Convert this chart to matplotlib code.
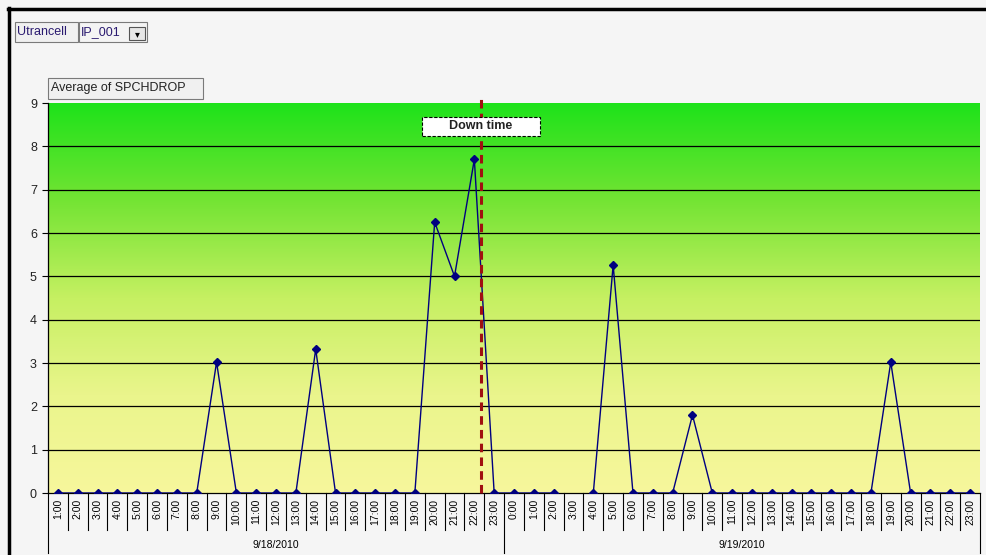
import numpy as np
import matplotlib
matplotlib.use("Agg")
import matplotlib.pyplot as plt
from matplotlib.colors import LinearSegmentedColormap
from matplotlib.lines import Line2D
from matplotlib.patches import Rectangle

plt.rcParams['font.family'] = ['Liberation Sans', 'DejaVu Sans']

# hourly averages, two days
hours_d1 = ["%d:00" % h for h in range(1, 24)]
hours_d2 = ["%d:00" % h for h in range(0, 24)]
dates = ["9/18/2010", "9/19/2010"]
spchdrop_d1 = [0, 0, 0, 0, 0, 0, 0, 0, 3.02, 0, 0, 0, 0, 3.32, 0, 0, 0, 0, 0,
               6.25, 5.0, 7.7, 0]
spchdrop_d2 = [0, 0, 0, np.nan, 0, 5.26, 0, 0, 0, 1.8, 0, 0, 0, 0, 0, 0, 0, 0, 0,
               3.02, 0, 0, 0, 0]
downtime_pos = 21.35   # between 22:00 and 23:00 on the first day
y_max = 9

labels = hours_d1 + hours_d2
values = np.array(spchdrop_d1 + spchdrop_d2, dtype=float)
x = np.arange(len(labels))
n1 = len(hours_d1)

W, H = 986, 555
fig = plt.figure(figsize=(W / 100, H / 100), dpi=100, facecolor='#f5f5f5')
ax = fig.add_axes([48 / W, (H - 493) / H, (980 - 48) / W, (493 - 103) / H])
ax.set_facecolor('none')

# green -> yellow gradient plot area
cmap = LinearSegmentedColormap.from_list(
    'gy', ['#f7f79c', '#eaf58c', '#c6f062', '#74e434', '#1ee21a'])
grad = np.linspace(0, 1, 256).reshape(-1, 1)
ax.imshow(grad, cmap=cmap, origin='lower', aspect='auto',
          extent=[-0.5, len(labels) - 0.5, 0, y_max], zorder=0)

for g in range(1, y_max):
    ax.axhline(g, color='black', lw=0.9, zorder=1)

ax.plot(x, values, color='#000080', lw=1.0, marker='D', ms=4,
        mfc='#000080', mec='#000080', zorder=3)

ax.set_xlim(-0.5, len(labels) - 0.5)
ax.set_ylim(0, y_max)
ax.set_yticks(range(0, y_max + 1))
ax.tick_params(axis='y', length=4, width=0.8, labelsize=9, pad=4,
               colors='black', labelcolor='#222222')
ax.set_xticks(x)
ax.set_xticklabels(labels, rotation=90, fontsize=7.5)
ax.tick_params(axis='x', length=0, pad=4)
for s in ['top', 'right']:
    ax.spines[s].set_visible(False)
ax.spines['left'].set_linewidth(0.9)
ax.spines['bottom'].set_linewidth(0.9)

# category separators under the axis
xt = ax.get_xaxis_transform()
ax_h = 493 - 103
short = -37 / ax_h
long = -60 / ax_h
for b in np.arange(-0.5, len(labels)):
    y1 = long if b in (-0.5, n1 - 0.5, len(labels) - 0.5) else short
    ax.plot([b, b], [0, y1], color='black', lw=0.8, transform=xt, clip_on=False)

ax.text((n1 - 1) / 2, -52 / ax_h, dates[0], transform=xt, ha='center',
        va='center', fontsize=7.5)
ax.text(n1 + (len(hours_d2) - 1) / 2, -52 / ax_h, dates[1], transform=xt,
        ha='center', va='center', fontsize=7.5)

# down time marker with its label box on top
ax.plot([downtime_pos, downtime_pos], [0, y_max + 0.19], color='#a01010',
        lw=2.2, dashes=(2.8, 1.7), clip_on=False, zorder=4)
ax.add_patch(Rectangle((18.35, 8.24), 5.95, 0.44, fc='white', ec='black',
                       ls=(0, (3, 1.5)), lw=0.8, zorder=5))
ax.text(21.3, 8.46, "Down time", ha='center', va='center', fontsize=9,
        fontweight='bold', color='#222222', zorder=6)


def fig_box(x0, y0, x1, y1, fc='#f0f0f0', ec='#7a7a7a'):
    fig.add_artist(Rectangle((x0 / W, 1 - y1 / H), (x1 - x0) / W, (y1 - y0) / H,
                             transform=fig.transFigure, fc=fc, ec=ec, lw=0.8))


# page field buttons
fig_box(15, 22, 78, 42)
fig.text(17 / W, 1 - 32 / H, "Utrancell", fontsize=9, color='#2a1a70',
         va='center')
fig_box(79, 22, 147, 42, fc='#f4f4f4')
fig.text(81 / W, 1 - 32 / H, "IP_001", fontsize=9, color='#2a1a70',
         va='center')
fig_box(129, 27, 145, 40, fc='#e6e6e6', ec='#555555')
fig.text(137 / W, 1 - 34 / H, "\u25be", fontsize=7, color='black',
         ha='center', va='center')

# data field button
fig_box(48, 78, 203, 99)
fig.text(51 / W, 1 - 88.5 / H, "Average of SPCHDROP", fontsize=9,
         color='#222222', va='center')

# frame border
fig.add_artist(Line2D([8 / W, 1], [1 - 9 / H, 1 - 9 / H], color='black', lw=2.5,
                      transform=fig.transFigure))
fig.add_artist(Line2D([9 / W, 9 / W], [0, 1 - 8 / H], color='black', lw=2.5,
                      transform=fig.transFigure))

fig.savefig("out.png", dpi=100, facecolor=fig.get_facecolor())
